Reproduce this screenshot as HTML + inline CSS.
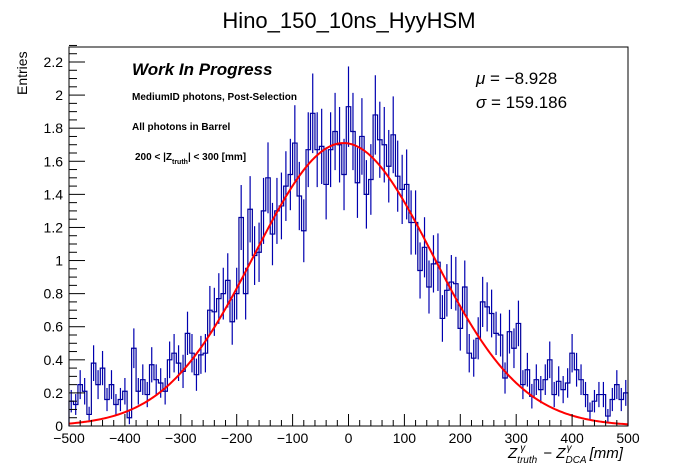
<!DOCTYPE html>
<html><head><meta charset="utf-8"><style>
body{margin:0;background:#fff;}
svg{display:block;font-family:"Liberation Sans",sans-serif;}
</style></head><body>
<svg id="c" width="698" height="474" viewBox="0 0 698 474">
<rect width="698" height="474" fill="#fff"/>
<text x="349" y="28" font-size="22" text-anchor="middle">Hino_150_10ns_HyyHSM</text>
<g id="plot"></g>
<text x="132" y="75" font-size="17" font-weight="bold" font-style="italic">Work In Progress</text>
<text x="132" y="100" font-size="10" font-weight="bold">MediumID photons, Post-Selection</text>
<text x="132" y="130" font-size="10" font-weight="bold">All photons in Barrel</text>
<text x="135" y="160" font-size="10" font-weight="bold">200 &lt; |Z<tspan font-size="7" dy="4">truth</tspan><tspan dy="-4">| &lt; 300 [mm]</tspan></text>
<text x="476" y="84" font-size="17"><tspan font-style="italic">μ</tspan> = −8.928</text>
<text x="476" y="108" font-size="17"><tspan font-style="italic">σ</tspan> = 159.186</text>
<text transform="translate(27,95) rotate(-90)" font-size="14">Entries</text>
<text x="508" y="458" font-size="15" font-style="italic">Z<tspan font-size="10" dy="5">truth</tspan><tspan font-size="10" dx="-17" dy="-12">γ</tspan><tspan dx="14" dy="7" font-style="normal"> − </tspan>Z<tspan font-size="10" dy="5">DCA</tspan><tspan font-size="10" dx="-20" dy="-12">γ</tspan><tspan dx="18" dy="7">[mm]</tspan></text>
</svg>
<script>
const binEdgesRange=[-500,500];
const counts=[
0.15,0.13,0.25,0.21,0.07,0.38,0.25,0.35,0.16,0.25,
0.13,0.16,0.21,0.05,0.47,0.21,0.28,0.19,0.37,0.28,
0.26,0.21,0.40,0.44,0.38,0.33,0.56,0.44,0.31,0.43,
0.44,0.70,0.69,0.77,0.80,0.88,0.63,0.80,1.26,0.80,
1.31,1.03,1.05,1.30,1.50,1.16,1.30,1.33,1.45,1.52,
1.71,1.39,1.18,1.67,1.89,1.67,1.69,1.46,1.67,1.78,
1.70,1.52,1.93,1.78,1.47,1.75,1.40,1.49,1.88,1.73,
1.70,1.57,1.76,1.51,1.43,1.46,1.23,1.23,0.94,1.08,
0.84,0.98,0.99,0.65,0.82,0.87,0.86,0.59,0.84,0.44,
0.41,0.53,0.75,0.72,0.68,0.56,0.55,0.29,0.57,0.47,
0.62,0.25,0.34,0.18,0.28,0.22,0.28,0.40,0.19,0.27,
0.22,0.26,0.44,0.34,0.28,0.19,0.09,0.15,0.19,0.19,
0.06,0.16,0.25,0.16,0.20];
const fitParams=[1.71,-8.928,159.186];
const xTicks=[-500,-400,-300,-200,-100,0,100,200,300,400,500];
const xTickLabels=["−500","−400","−300","−200","−100","0","100","200","300","400","500"];
const yTicks=[0,0.2,0.4,0.6,0.8,1,1.2,1.4,1.6,1.8,2,2.2];
const yTickLabels=["0","0.2","0.4","0.6","0.8","1","1.2","1.4","1.6","1.8","2","2.2"];

const L=69,R=628,T=47,B=426,yMax=2.2*(B-T)/(B-62);
const X=v=>L+(v-binEdgesRange[0])/(binEdgesRange[1]-binEdgesRange[0])*(R-L);
const Y=v=>B-v/yMax*(B-T);
const NS="http://www.w3.org/2000/svg";
const g=document.getElementById('plot');
function mk(t,a){const e=document.createElementNS(NS,t);for(const k in a)e.setAttribute(k,a[k]);g.appendChild(e);return e;}
const n=counts.length,w=(binEdgesRange[1]-binEdgesRange[0])/n;
counts.forEach((v,i)=>{
 const c=binEdgesRange[0]+(i+0.5)*w,err=Math.sqrt(v)*0.175;
 const e=mk('line',{x1:X(c),x2:X(c),y1:Y(Math.max(0,v-err)),y2:Y(v+err),stroke:'#0000b0','stroke-width':1.2});
 
 
});
let d='M'+X(binEdgesRange[0])+','+Y(0);
counts.forEach((v,i)=>{const a=binEdgesRange[0]+i*w;d+=' L'+X(a)+','+Y(v)+' L'+X(a+w)+','+Y(v);});
d+=' L'+X(binEdgesRange[1])+','+Y(0);
const h=mk('path',{d:d,fill:'none',stroke:'#00009c','stroke-width':1.2});


let fd='';
for(let k=0;k<=400;k++){const x=binEdgesRange[0]+k*2.5;const y=fitParams[0]*Math.exp(-Math.pow(x-fitParams[1],2)/(2*fitParams[2]*fitParams[2]));fd+=(k?' L':'M')+X(x).toFixed(2)+','+Y(y).toFixed(2);}
const f=mk('path',{d:fd,fill:'none',stroke:'#ff0000','stroke-width':2});


const fr=mk('rect',{x:L,y:T,width:R-L,height:B-T,fill:'none',stroke:'#000','stroke-width':1});


for(let v=0;v<=2.3001;v+=0.05){const maj=Math.abs(v/0.2-Math.round(v/0.2))<1e-6;const t=mk('line',{x1:L,x2:L+(maj?16:8),y1:Y(v),y2:Y(v),stroke:'#000'});
 
 }
yTicks.forEach((v,i)=>{const t=mk('text',{x:L-6,y:Y(v)+5,'font-size':14,'text-anchor':'end'});t.textContent=yTickLabels[i];
 
 });
for(let v=-500;v<=500;v+=20){const maj=v%100===0;const t=mk('line',{x1:X(v),x2:X(v),y1:B,y2:B-(maj?12:6),stroke:'#000'});
 
 }
xTicks.forEach((v,i)=>{const t=mk('text',{x:X(v),y:B+17,'font-size':14,'text-anchor':'middle'});t.textContent=xTickLabels[i];
 
 });
</script>
</body></html>
